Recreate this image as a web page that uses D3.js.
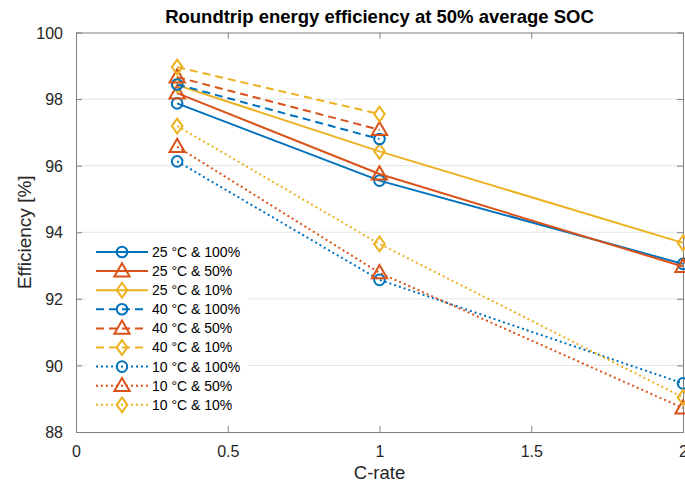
<!DOCTYPE html>
<html>
<head>
<meta charset="utf-8">
<script src="https://cdn.jsdelivr.net/npm/d3@7/dist/d3.min.js"></script>
<style>
  html, body { margin: 0; padding: 0; background: #fff; }
  svg { display: block; font-family: "Liberation Sans", Arial, Helvetica, sans-serif; }
</style>
</head>
<body>
<svg id="chart" width="685" height="486"></svg>
<script>
// ---- Data ----
const cRates = [1/3, 1, 2];
const cRates40 = [1/3, 1];

const eff25_100 = [97.87, 95.55, 93.05];
const eff25_50  = [98.18, 95.75, 92.97];
const eff25_10  = [98.42, 96.43, 93.68];
const eff40_100 = [98.44, 96.80];
const eff40_50  = [98.66, 97.08];
const eff40_10  = [98.96, 97.55];
const eff10_100 = [96.13, 92.57, 89.46];
const eff10_50  = [96.57, 92.78, 88.72];
const eff10_10  = [97.19, 93.65, 89.04];

const seriesLabels = [
  "25 °C & 100%", "25 °C & 50%", "25 °C & 10%",
  "40 °C & 100%", "40 °C & 50%", "40 °C & 10%",
  "10 °C & 100%", "10 °C & 50%", "10 °C & 10%"
];

const xTicks = [0, 0.5, 1, 1.5, 2];
const xTickLabels = ["0", "0.5", "1", "1.5", "2"];
const yTicks = [88, 90, 92, 94, 96, 98, 100];
const yTickLabels = ["88", "90", "92", "94", "96", "98", "100"];

const titleText = "Roundtrip energy efficiency at 50% average SOC";
const xLabelText = "C-rate";
const yLabelText = "Efficiency [%]";

// ---- Styles ----
const colors = ["#0072BD", "#D95319", "#EDB120"];
const markers = ["circle", "triangle", "diamond"];
const dashes = { solid: null, dash: "8,5", dot: "2,3" };

const series = [
  { label: seriesLabels[0], x: cRates,   y: eff25_100, color: colors[0], marker: markers[0], dash: dashes.solid },
  { label: seriesLabels[1], x: cRates,   y: eff25_50,  color: colors[1], marker: markers[1], dash: dashes.solid },
  { label: seriesLabels[2], x: cRates,   y: eff25_10,  color: colors[2], marker: markers[2], dash: dashes.solid },
  { label: seriesLabels[3], x: cRates40, y: eff40_100, color: colors[0], marker: markers[0], dash: dashes.dash },
  { label: seriesLabels[4], x: cRates40, y: eff40_50,  color: colors[1], marker: markers[1], dash: dashes.dash },
  { label: seriesLabels[5], x: cRates40, y: eff40_10,  color: colors[2], marker: markers[2], dash: dashes.dash },
  { label: seriesLabels[6], x: cRates,   y: eff10_100, color: colors[0], marker: markers[0], dash: dashes.dot },
  { label: seriesLabels[7], x: cRates,   y: eff10_50,  color: colors[1], marker: markers[1], dash: dashes.dot },
  { label: seriesLabels[8], x: cRates,   y: eff10_10,  color: colors[2], marker: markers[2], dash: dashes.dot }
];

// ---- Layout ----
const svg = d3.select("#chart");
const m = { left: 76, top: 32.5, right: 683, bottom: 432 };
const x = d3.scaleLinear().domain([0, 2]).range([m.left, m.right]);
const y = d3.scaleLinear().domain([88, 100]).range([m.bottom, m.top]);

const axisColor = "#808080";
const textColor = "#262626";

// grid
svg.append("g").selectAll("line").data(yTicks.slice(1, -1)).join("line")
  .attr("x1", m.left).attr("x2", m.right)
  .attr("y1", d => y(d)).attr("y2", d => y(d))
  .attr("stroke", "#e5e5e5").attr("stroke-width", 1);

// axes
const tickLen = 6;
const xAxisB = d3.axisBottom(x).tickValues(xTicks).tickFormat((d, i) => xTickLabels[i]).tickSizeInner(-tickLen).tickSizeOuter(0).tickPadding(14);
const xAxisT = d3.axisTop(x).tickValues(xTicks).tickFormat("").tickSizeInner(-tickLen).tickSizeOuter(0);
const yAxisL = d3.axisLeft(y).tickValues(yTicks).tickFormat((d, i) => yTickLabels[i]).tickSizeInner(-tickLen).tickSizeOuter(0).tickPadding(13);
const yAxisR = d3.axisRight(y).tickValues(yTicks).tickFormat("").tickSizeInner(-tickLen).tickSizeOuter(0);

function styleAxis(g) {
  g.select(".domain").attr("stroke", axisColor).attr("stroke-width", 1);
  g.selectAll(".tick line").attr("stroke", axisColor);
  g.selectAll(".tick text").attr("fill", textColor).attr("font-size", 16)
    .attr("font-family", "'Liberation Sans', Arial, sans-serif");
}
svg.append("g").attr("transform", `translate(0,${m.bottom})`).call(xAxisB).call(styleAxis);
svg.append("g").attr("transform", `translate(0,${m.top})`).call(xAxisT).call(styleAxis);
svg.append("g").attr("transform", `translate(${m.left},0)`).call(yAxisL).call(styleAxis)
  .selectAll(".tick text").attr("dy", "0.35em");
svg.append("g").attr("transform", `translate(${m.right},0)`).call(yAxisR).call(styleAxis);

// lines & markers
const line = d3.line().x(d => x(d[0])).y(d => y(d[1]));
const plot = svg.append("g");

function markerPath(type, r) {
  if (type === "triangle") {
    return d3.symbol().type(d3.symbolTriangle).size(r * r * 3.6)();
  }
  return `M0,${-r * 1.4}L${r},0L0,${r * 1.4}L${-r},0Z`;
}
function drawMarker(g, type, cx, cy, color) {
  const r = 5.3;
  if (type === "circle") {
    g.append("circle").attr("cx", cx).attr("cy", cy).attr("r", r)
      .attr("fill", "none").attr("stroke", color).attr("stroke-width", 2);
  } else {
    g.append("path").attr("d", markerPath(type, r))
      .attr("transform", `translate(${cx},${cy + (type === "triangle" ? 1 : 0)})`)
      .attr("fill", "none").attr("stroke", color).attr("stroke-width", 2)
      .attr("stroke-linejoin", "miter");
  }
}

series.forEach(s => {
  const pts = s.x.map((xv, i) => [xv, s.y[i]]);
  plot.append("path").attr("d", line(pts))
    .attr("fill", "none").attr("stroke", s.color).attr("stroke-width", 2)
    .attr("stroke-dasharray", s.dash);
  pts.forEach(p => drawMarker(plot, s.marker, x(p[0]), y(p[1]), s.color));
});

// legend
const lg = svg.append("g");
const lgX = 86, lgY = 238, rowH = 19.1;
lg.append("rect").attr("x", lgX).attr("y", lgY).attr("width", 162).attr("height", 180).attr("fill", "#fff");
series.forEach((s, i) => {
  const cy = lgY + 14 + i * rowH;
  lg.append("line").attr("x1", 96).attr("x2", 148).attr("y1", cy).attr("y2", cy)
    .attr("stroke", s.color).attr("stroke-width", 2).attr("stroke-dasharray", s.dash);
  drawMarker(lg, s.marker, 122, cy, s.color);
  lg.append("text").attr("x", 152).attr("y", cy).attr("dy", "0.35em")
    .attr("font-size", 14).attr("fill", "#000").text(s.label);
});

// titles
svg.append("text").attr("x", (m.left + m.right) / 2).attr("y", 23)
  .attr("text-anchor", "middle").attr("font-weight", "bold").attr("font-size", 18.5)
  .attr("fill", "#000").text(titleText);
svg.append("text").attr("x", (m.left + m.right) / 2).attr("y", 479)
  .attr("text-anchor", "middle").attr("font-size", 18.5).attr("fill", textColor).text(xLabelText);
svg.append("text").attr("transform", `translate(31,${(m.top + m.bottom) / 2}) rotate(-90)`)
  .attr("text-anchor", "middle").attr("font-size", 19).attr("fill", textColor).text(yLabelText);
</script>
</body>
</html>
